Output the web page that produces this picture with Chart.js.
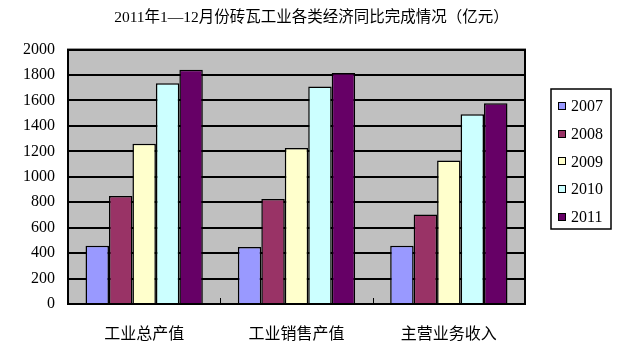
<!DOCTYPE html>
<html>
<head>
<meta charset="utf-8">
<script src="https://cdn.jsdelivr.net/npm/chart.js@4/dist/chart.umd.min.js"></script>
<style>
html,body{margin:0;padding:0;background:#fff;}
#wrap{width:623px;height:356px;position:relative;}
</style>
</head>
<body>
<div id="wrap"><canvas id="c" width="623" height="356"></canvas></div>
<script>
const categories = ['工业总产值', '工业销售产值', '主营业务收入'];
const seriesNames = ['2007', '2008', '2009', '2010', '2011'];
const v2007 = [457, 449, 457];
const v2008 = [849, 826, 704];
const v2009 = [1260, 1226, 1129];
const v2010 = [1736, 1710, 1492];
const v2011 = [1841, 1817, 1578];
const yTicks = [0, 200, 400, 600, 800, 1000, 1200, 1400, 1600, 1800, 2000];
const titleText = '2011年1—12月份砖瓦工业各类经济同比完成情况（亿元）';

const colors = ['#9999FF', '#993366', '#FFFFCC', '#CCFFFF', '#660066'];
const seriesValues = [v2007, v2008, v2009, v2010, v2011];

const bgPlugin = {
  id: 'bgPlugin',
  beforeDraw(chart) {
    const {ctx, chartArea: a} = chart;
    ctx.save();
    ctx.fillStyle = '#fff';
    ctx.fillRect(0, 0, chart.width, chart.height);
    ctx.fillStyle = '#C0C0C0';
    ctx.fillRect(a.left, a.top, a.right - a.left, a.bottom - a.top);
    ctx.restore();
  },
  afterDatasetsDraw(chart) {
    const {ctx, chartArea: a} = chart;
    ctx.save();
    ctx.strokeStyle = '#000';
    ctx.lineWidth = 2;
    ctx.strokeRect(a.left, a.top, a.right - a.left, a.bottom - a.top);
    const xs = chart.scales.x;
    ctx.lineWidth = 1;
    for (let i = 1; i < categories.length; i++) {
      const x = Math.round((xs.getPixelForValue(i - 1) + xs.getPixelForValue(i)) / 2) + 0.5;
      ctx.beginPath();
      ctx.moveTo(x, a.bottom);
      ctx.lineTo(x, a.bottom - 6);
      ctx.stroke();
    }
    ctx.restore();
  }
};

const legendPlugin = {
  id: 'boxLegend',
  afterDraw(chart) {
    const ctx = chart.ctx;
    const bx = 551, by = 89, bw = 60, bh = 140;
    ctx.save();
    ctx.fillStyle = '#fff';
    ctx.fillRect(bx, by, bw, bh);
    ctx.strokeStyle = '#000';
    ctx.lineWidth = 1.5;
    ctx.strokeRect(bx, by, bw, bh);
    ctx.font = '16px "Liberation Serif", serif';
    ctx.textBaseline = 'middle';
    ctx.textAlign = 'left';
    chart.data.datasets.forEach((ds, i) => {
      const cy = 106 + i * 27.7;
      ctx.fillStyle = ds.backgroundColor;
      ctx.fillRect(558, Math.round(cy - 4), 7, 7);
      ctx.lineWidth = 1;
      ctx.strokeStyle = '#000';
      ctx.strokeRect(558.5, Math.round(cy - 4) + 0.5, 7, 7);
      ctx.fillStyle = '#000';
      ctx.fillText(ds.label, 571, cy + 1);
    });
    ctx.restore();
  }
};

new Chart(document.getElementById('c'), {
  type: 'bar',
  data: {
    labels: categories,
    datasets: seriesNames.map((n, i) => ({
      label: n,
      data: seriesValues[i],
      backgroundColor: colors[i],
      borderColor: '#000',
      borderWidth: 1.5,
      categoryPercentage: 0.77,
      barPercentage: 1.0
    }))
  },
  options: {
    responsive: false,
    animation: false,
    devicePixelRatio: 1,
    layout: {padding: {left: 0, right: 0, top: 0, bottom: 0}},
    plugins: {
      legend: {display: false},
      tooltip: {enabled: false},
      title: {
        display: true,
        text: titleText,
        color: '#000',
        font: {family: '"Liberation Serif", "Noto Sans CJK SC", serif', size: 15.5, weight: 'normal'},
        padding: {top: 9, bottom: 22}
      }
    },
    scales: {
      x: {
        grid: {display: false},
        border: {display: false},
        ticks: {
          color: '#000',
          padding: 11,
          font: {family: '"Noto Sans CJK SC", sans-serif', size: 16}
        },
        afterFit(s) { s.height = 52; }
      },
      y: {
        min: 0,
        max: 2000,
        afterBuildTicks(s) { s.ticks = yTicks.map(v => ({value: v})); },
        grid: {color: '#000', lineWidth: 2, drawTicks: false},
        border: {display: false},
        ticks: {
          color: '#000',
          padding: 13,
          font: {family: '"Liberation Serif", serif', size: 16},
          callback: v => String(v)
        },
        afterFit(s) { s.width = 68; }
      },
      yRight: {
        position: 'right',
        display: true,
        min: 0,
        max: 2000,
        grid: {display: false, drawTicks: false},
        border: {display: false},
        ticks: {display: false},
        afterFit(s) { s.width = 98; }
      }
    }
  },
  plugins: [bgPlugin, legendPlugin]
});
</script>
</body>
</html>
